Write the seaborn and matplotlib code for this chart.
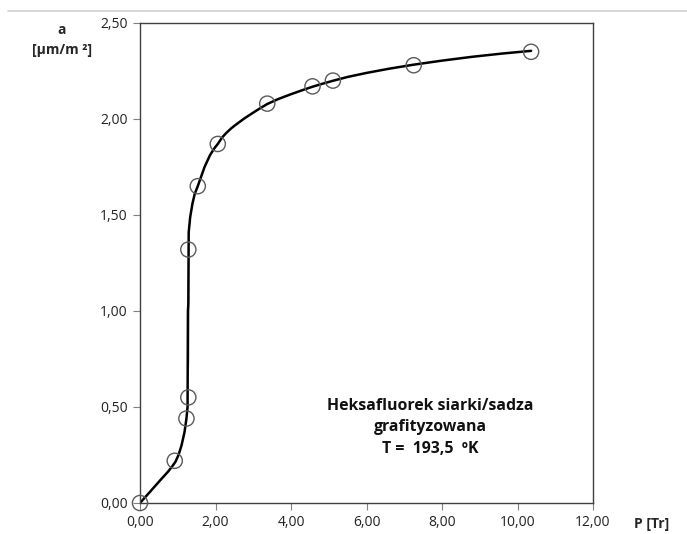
import matplotlib
matplotlib.use("Agg")
import matplotlib.pyplot as plt
from matplotlib.lines import Line2D
from matplotlib.ticker import FuncFormatter, MultipleLocator
import seaborn as sns
import pandas as pd

# measured points (P [Tr], a [umol/m2])
pressure = [0.00, 0.92, 1.23, 1.28, 1.28, 1.53, 2.06, 3.37, 4.57, 5.11, 7.25, 10.36]
adsorbed = [0.00, 0.22, 0.44, 0.55, 1.32, 1.65, 1.87, 2.08, 2.17, 2.20, 2.28, 2.35]

# smooth isotherm curve
fit_p = [0.00, 0.25, 0.52, 0.75, 0.85, 0.94, 1.02, 1.10, 1.18, 1.23, 1.26, 1.27, 1.28,
         1.27, 1.27, 1.27, 1.28, 1.29, 1.33, 1.39, 1.45, 1.53, 1.62, 1.71, 1.85, 1.96,
         2.06, 2.18, 2.30, 2.42, 2.55, 2.75, 2.95, 3.15, 3.37, 3.65, 3.97, 4.27, 4.57,
         4.84, 5.11, 5.50, 6.00, 6.60, 7.25, 8.00, 8.80, 9.60, 10.36]
fit_a = [0.00, 0.055, 0.115, 0.165, 0.19, 0.215, 0.25, 0.30, 0.37, 0.44, 0.50, 0.55, 0.75,
         1.00, 1.20, 1.26, 1.32, 1.41, 1.49, 1.56, 1.61, 1.65, 1.70, 1.75, 1.81, 1.845,
         1.87, 1.905, 1.93, 1.952, 1.972, 2.001, 2.027, 2.052, 2.078, 2.103, 2.127, 2.148,
         2.168, 2.184, 2.199, 2.219, 2.240, 2.262, 2.283, 2.304, 2.324, 2.341, 2.355]

pts = pd.DataFrame({"P": pressure, "a": adsorbed})
fit = pd.DataFrame({"P": fit_p, "a": fit_a})

sns.set_theme(style="white")
plt.rcParams["font.family"] = ["Open Sans", "DejaVu Sans"]

fig = plt.figure(figsize=(6.87, 5.34), dpi=100)
ax = fig.add_axes([140 / 687, 31 / 534, 453 / 687, 480 / 534])

sns.lineplot(data=fit, x="P", y="a", sort=False, color="black", linewidth=1.8,
             ax=ax, zorder=2)
sns.scatterplot(data=pts, x="P", y="a", marker="o", s=120, facecolors="none",
                edgecolor="#5a5a5a", linewidth=1.0, ax=ax, zorder=3, clip_on=False)

ax.set_xlim(0, 12)
ax.set_ylim(0, 2.5)
ax.xaxis.set_major_locator(MultipleLocator(2))
ax.yaxis.set_major_locator(MultipleLocator(0.5))
fmt = FuncFormatter(lambda v, pos: f"{v:.2f}".replace(".", ","))
ax.xaxis.set_major_formatter(fmt)
ax.yaxis.set_major_formatter(fmt)
ax.tick_params(axis="both", direction="out", length=5, width=0.8, color="#808080",
               labelsize=10, labelcolor="#222222", pad=4,
               bottom=True, left=True)
ax.set_xlabel("")
ax.set_ylabel("")
for side in ["left", "bottom", "right", "top"]:
    ax.spines[side].set_color("#404040")
    ax.spines[side].set_linewidth(1.0)

fig.text(62 / 687, 1 - 30 / 534, "a", ha="center", va="center",
         fontsize=10, fontweight="bold")
fig.text(62 / 687, 1 - 50 / 534, "[µm/m ²]", ha="center", va="center",
         fontsize=10, fontweight="bold")
fig.text(652 / 687, 1 - 524 / 534, "P [Tr]", ha="center", va="center",
         fontsize=10, fontweight="bold")

ax.text(0.641, 0.158, "Heksafluorek siarki/sadza\ngrafityzowana\nT =  193,5  ºK",
        transform=ax.transAxes, ha="center", va="center", fontsize=11.4,
        fontweight="bold", linespacing=1.45, color="#111111")

# chart area border line along the top
fig.add_artist(Line2D([8 / 687, 1], [1 - 11 / 534, 1 - 11 / 534],
                      color="#d0d0d0", linewidth=1.2))

fig.savefig("out.png", dpi=100)
